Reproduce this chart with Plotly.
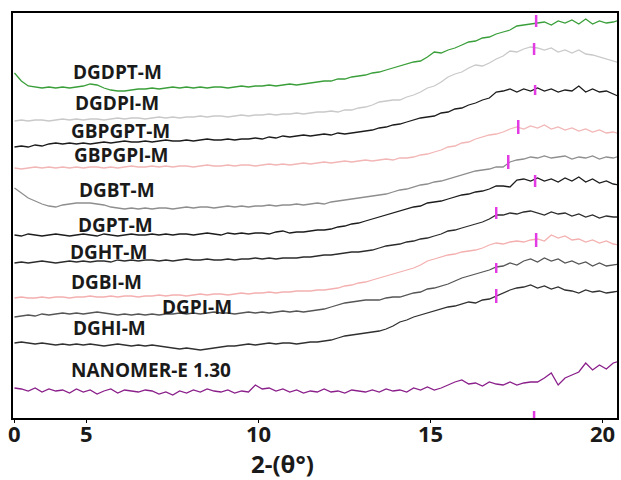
import plotly.graph_objects as go

# Scan grid, 2-theta (degrees), 0.2 degree step
two_theta = [round(2.9 + 0.2 * i, 1) for i in range(89)]

# Stacked XRD patterns (intensity, a.u., already offset for stacking)
DGDPT_M = [345, 337, 332, 331, 330, 331, 330, 331, 330, 331, 332, 334, 333, 330, 328, 327, 327, 328, 329, 329,
           330, 329, 330, 331, 330, 331, 330, 331, 330, 331, 331, 330, 331, 332, 331, 332, 332, 333, 332, 333,
           334, 333, 334, 335, 336, 337, 337, 339, 339, 341, 342, 343, 345, 346, 348, 350, 352, 354, 356, 357,
           361, 366, 365, 368, 370, 373, 376, 377, 380, 381, 384, 386, 388, 392, 393, 394, 395, 396, 393, 397,
           395, 398, 394, 399, 394, 397, 395, 396, 398]
DGDPI_M = [297, 298, 297, 298, 298, 297, 298, 299, 298, 299, 298, 299, 299, 298, 299, 300, 299, 300, 300, 299,
           300, 301, 300, 301, 300, 301, 301, 302, 301, 302, 302, 301, 302, 303, 302, 303, 303, 304, 303, 304,
           304, 305, 304, 305, 306, 306, 307, 306, 308, 308, 310, 311, 313, 316, 317, 318, 318, 321, 323, 326,
           330, 332, 336, 341, 344, 346, 350, 353, 352, 355, 359, 362, 367, 366, 369, 371, 370, 368, 370, 366,
           368, 365, 368, 364, 363, 361, 359, 357, 355]
GBPGPT_M = [271, 272, 271, 273, 272, 274, 275, 274, 275, 274, 275, 274, 275, 276, 275, 276, 277, 276, 276, 277,
            276, 277, 278, 277, 277, 278, 277, 278, 279, 278, 278, 279, 278, 279, 279, 280, 279, 281, 280, 282,
            281, 282, 283, 282, 283, 284, 283, 285, 284, 285, 286, 287, 288, 290, 291, 293, 294, 296, 298, 300,
            301, 302, 305, 306, 309, 310, 313, 315, 318, 320, 326, 327, 329, 326, 329, 327, 330, 327, 329, 326,
            328, 327, 332, 326, 329, 326, 327, 324, 321]
GBPGPI_M = [250, 249, 250, 251, 250, 251, 250, 251, 250, 251, 250, 251, 251, 250, 251, 250, 251, 252, 251, 251,
            252, 251, 252, 251, 252, 252, 251, 252, 253, 252, 252, 253, 252, 253, 253, 252, 253, 254, 253, 254,
            253, 254, 255, 254, 255, 256, 255, 256, 257, 256, 257, 258, 257, 258, 259, 258, 260, 260, 261, 263,
            264, 266, 268, 271, 272, 275, 276, 279, 281, 283, 284, 286, 289, 291, 289, 292, 290, 293, 289, 291,
            288, 290, 287, 289, 286, 288, 285, 286, 284]
DGBT_M = [230, 225, 220, 217, 214, 212, 211, 213, 214, 215, 215, 215, 214, 213, 211, 210, 209, 210, 209, 210,
          209, 210, 210, 209, 210, 211, 210, 211, 211, 210, 211, 212, 211, 212, 211, 212, 212, 213, 212, 213,
          213, 214, 213, 214, 215, 214, 216, 217, 218, 219, 220, 221, 222, 223, 224, 226, 228, 229, 231, 233,
          234, 236, 237, 239, 241, 243, 245, 247, 248, 249, 251, 251, 256, 258, 259, 261, 260, 262, 260, 261,
          262, 259, 261, 260, 262, 259, 261, 260, 262]
DGPT_M = [183, 182, 184, 183, 182, 183, 184, 183, 182, 183, 184, 183, 182, 184, 183, 182, 183, 184, 183, 183,
          184, 183, 184, 183, 184, 184, 183, 184, 185, 184, 183, 185, 184, 185, 184, 185, 185, 184, 186, 187,
          185, 186, 186, 187, 188, 188, 189, 191, 192, 194, 195, 197, 199, 201, 203, 205, 207, 209, 211, 212,
          215, 216, 217, 219, 221, 223, 224, 226, 227, 229, 232, 232, 231, 238, 239, 237, 240, 237, 239, 236,
          240, 237, 241, 236, 239, 235, 237, 234, 233]
DGHT_M = [155, 156, 155, 156, 157, 156, 155, 156, 157, 156, 157, 156, 157, 157, 156, 158, 157, 158, 157, 158,
          158, 157, 158, 157, 158, 159, 158, 158, 159, 158, 158, 159, 158, 159, 159, 160, 159, 160, 159, 160,
          160, 160, 161, 161, 162, 163, 163, 164, 165, 166, 166, 167, 168, 170, 172, 173, 174, 176, 177, 179,
          180, 182, 184, 187, 188, 190, 192, 194, 196, 199, 203, 203, 205, 204, 206, 207, 205, 203, 206, 204,
          205, 202, 204, 201, 203, 200, 202, 201, 201]
DGBI_M = [120, 121, 120, 120, 121, 120, 121, 121, 120, 121, 121, 122, 121, 121, 122, 121, 122, 122, 121, 122,
          122, 123, 122, 123, 123, 122, 123, 124, 123, 124, 124, 123, 124, 125, 124, 125, 125, 126, 125, 126,
          126, 127, 127, 127, 128, 128, 129, 130, 132, 133, 135, 136, 138, 140, 142, 144, 146, 148, 150, 153,
          157, 159, 161, 163, 164, 166, 167, 168, 170, 173, 175, 174, 176, 177, 176, 178, 179, 177, 183, 180,
          182, 178, 179, 176, 178, 175, 177, 174, 173]
DGPI_M = [101, 102, 103, 102, 104, 103, 104, 105, 104, 105, 104, 105, 106, 105, 104, 103, 104, 103, 104, 103,
          104, 103, 104, 104, 105, 104, 105, 104, 105, 106, 105, 105, 104, 105, 106, 105, 106, 105, 106, 107,
          106, 107, 106, 107, 108, 109, 111, 113, 115, 116, 117, 118, 118, 118, 120, 121, 121, 123, 125, 126,
          129, 130, 132, 134, 137, 140, 142, 144, 146, 148, 151, 152, 155, 153, 157, 159, 156, 160, 157, 159,
          155, 157, 154, 156, 152, 155, 152, 153, 154]
DGHI_M = [75, 76, 75, 74, 75, 74, 73, 74, 73, 74, 73, 74, 73, 72, 73, 74, 73, 72, 73, 72,
          73, 72, 71, 70, 69, 70, 69, 68, 69, 70, 71, 72, 72, 73, 74, 73, 74, 75, 74, 75,
          75, 74, 75, 76, 76, 77, 78, 80, 82, 83, 84, 85, 86, 87, 89, 92, 96, 98, 101, 103,
          105, 107, 109, 111, 112, 114, 116, 115, 118, 119, 122, 125, 128, 130, 131, 133, 130, 132, 129, 131,
          128, 127, 125, 128, 126, 127, 125, 126, 127]
NANOMER_E130 = [30, 29, 27, 30, 26, 29, 27, 28, 25, 29, 26, 28, 24, 27, 29, 25, 28, 27, 26, 28,
                27, 24, 26, 23, 27, 25, 28, 26, 29, 27, 26, 28, 25, 27, 26, 33, 29, 30, 27, 29,
                26, 28, 25, 27, 26, 29, 26, 27, 25, 28, 27, 26, 28, 26, 29, 27, 28, 26, 30, 28,
                31, 28, 30, 33, 36, 38, 34, 35, 32, 36, 34, 33, 36, 33, 35, 36, 36, 40, 45, 33,
                40, 43, 46, 55, 48, 53, 49, 55, 57]

series = [
    ("DGDPT-M", DGDPT_M, "#3a9f3a"),
    ("DGDPI-M", DGDPI_M, "#c9c9c9"),
    ("GBPGPT-M", GBPGPT_M, "#1c1c1c"),
    ("GBPGPI-M", GBPGPI_M, "#f2b6b6"),
    ("DGBT-M", DGBT_M, "#8e8e8e"),
    ("DGPT-M", DGPT_M, "#1c1c1c"),
    ("DGHT-M", DGHT_M, "#2c2c2c"),
    ("DGBI-M", DGBI_M, "#f4b0b0"),
    ("DGPI-M", DGPI_M, "#555555"),
    ("DGHI-M", DGHI_M, "#303030"),
    ("NANOMER-E 1.30", NANOMER_E130, "#8a1f8a"),
]

# Peak markers (2-theta, intensity at marker centre)
peak_theta = [18.06, 18.0, 18.03, 17.54, 17.25, 18.03, 16.9, 18.06, 16.9, 16.9, 18.0]
peak_level = [397, 369, 328, 291, 256, 237, 205, 178, 150, 122, 3]
peak_half = [6, 6, 5, 7, 7, 6, 6, 7, 5, 7, 4]

# Curve labels: (text, 2-theta, intensity)
labels = [
    ("DGDPT-M", 5.9, 346),
    ("DGDPI-M", 5.87, 315),
    ("GBPGPT-M", 5.98, 287),
    ("GBPGPI-M", 6.01, 263),
    ("DGBT-M", 5.87, 228),
    ("DGPT-M", 5.84, 193),
    ("DGHT-M", 5.64, 166),
    ("DGBI-M", 5.58, 136),
    ("DGPI-M", 8.21, 111),
    ("DGHI-M", 5.67, 90),
    ("NANOMER-E 1.30", 6.88, 48),
]

tick_vals = [2.89, 5, 10, 15, 20]
tick_text = ["0", "5", "10", "15", "20"]

fig = go.Figure()
for name, vals, color in series:
    fig.add_trace(go.Scatter(x=two_theta, y=vals, mode="lines", name=name,
                             line=dict(color=color, width=1.3), hoverinfo="skip"))

px_, py_ = [], []
for t, lv, h in zip(peak_theta, peak_level, peak_half):
    px_ += [t, t, None]
    py_ += [lv - h, lv + h, None]
fig.add_trace(go.Scatter(x=px_, y=py_, mode="lines", line=dict(color="#e33be3", width=2.5),
                         hoverinfo="skip"))

for text, xv, yv in labels:
    fig.add_annotation(x=xv, y=yv, text="<b>%s</b>" % text, showarrow=False,
                       font=dict(family="Open Sans", size=19, color="#1a1a1a"),
                       xanchor="center", yanchor="middle")

# x tick labels, set close under the axis line
for tv, tt in zip(tick_vals, tick_text):
    fig.add_annotation(x=tv, y=-0.036, xref="x", yref="paper", text="<b>%s</b>" % tt,
                       showarrow=False, font=dict(family="Open Sans", size=22, color="#1a1a1a"),
                       xanchor="center", yanchor="middle")

fig.add_annotation(x=0.447, y=-0.113, xref="paper", yref="paper", text="<b>2-(θ°)</b>",
                   showarrow=False, font=dict(family="Open Sans", size=24, color="#1a1a1a"),
                   xanchor="center", yanchor="middle")

fig.update_layout(
    width=621, height=480,
    margin=dict(l=13, r=2, t=13, b=62),
    paper_bgcolor="white", plot_bgcolor="white",
    showlegend=False,
)
fig.update_xaxes(range=[2.857, 20.41], showgrid=False, zeroline=False,
                 showline=True, linecolor="black", linewidth=2, mirror=True,
                 tickvals=tick_vals, showticklabels=False,
                 ticks="outside", ticklen=3, tickcolor="black", tickwidth=1)
fig.update_yaxes(range=[0, 405], showgrid=False, zeroline=False, showticklabels=False,
                 showline=True, linecolor="black", linewidth=2, mirror=True, ticks="")

fig.write_html("out.html")
